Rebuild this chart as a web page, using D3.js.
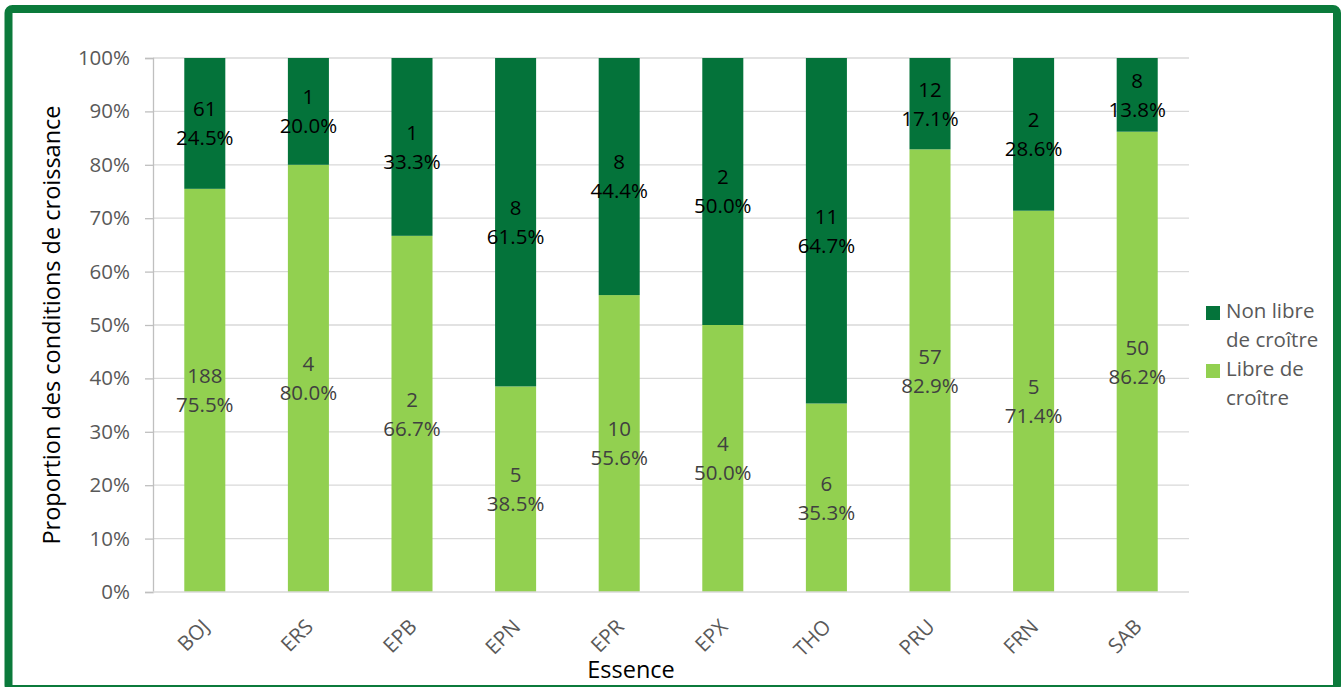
<!DOCTYPE html>
<html><head><meta charset="utf-8">
<script src="https://cdn.jsdelivr.net/npm/d3@7"></script>
<style>
html,body{margin:0;padding:0;background:#fff;}
svg{display:block;font-family:"Open Sans",sans-serif;}
</style></head>
<body>
<svg id="c" width="1341" height="687"></svg>
<script>
const categories = ["BOJ","ERS","EPB","EPN","EPR","EPX","THO","PRU","FRN","SAB"];
const libreCount = [188,4,2,5,10,4,6,57,5,50];
const nonLibreCount = [61,1,1,8,8,2,11,12,2,8];
const librePct = [75.5,80.0,66.7,38.5,55.6,50.0,35.3,82.9,71.4,86.2];
const nonLibrePct = [24.5,20.0,33.3,61.5,44.4,50.0,64.7,17.1,28.6,13.8];
const yTicks = [0,10,20,30,40,50,60,70,80,90,100];
const seriesNames = ["Non libre de croître","Libre de croître"];
const legendLines = [["Non libre","de croître"],["Libre de","croître"]];

const darkGreen = "#04733a", lightGreen = "#92d050";
const svg = d3.select("#c");

// border
svg.append("rect").attr("x",8.5).attr("y",9).attr("width",1328.5).attr("height",680)
  .attr("rx",4).attr("fill","#fff").attr("stroke","#0b7a3b").attr("stroke-width",8);

const x = d3.scaleBand().domain(categories).range([153,1189]).paddingInner(0.604).paddingOuter(0.302);
const y = d3.scaleLinear().domain([0,100]).range([592,58]);

// gridlines
svg.append("g").selectAll("line").data(yTicks.filter(d=>d>0)).join("line")
  .attr("x1",153).attr("x2",1189).attr("y1",d=>y(d)).attr("y2",d=>y(d))
  .attr("stroke","#d9d9d9").attr("stroke-width",1.3);

// y axis
const yAxis = d3.axisLeft(y).tickValues(yTicks).tickFormat(d=>d+"%").tickSize(8).tickPadding(15);
const ya = svg.append("g").attr("transform","translate(153,0)").call(yAxis);
ya.select(".domain").attr("stroke","#bfbfbf").attr("stroke-width",1.3);
ya.selectAll(".tick line").attr("stroke","#bfbfbf").attr("stroke-width",1.3);
ya.selectAll(".tick text").attr("fill","#595959").style("font-size","20.5px").style("font-family","Open Sans");

// bars
const rows = categories.map((c,i)=>({c, libre:librePct[i], non:nonLibrePct[i], lc:libreCount[i], nc:nonLibreCount[i]}));
const g = svg.append("g");
g.selectAll("rect.l").data(rows).join("rect").attr("class","l")
  .attr("x",d=>x(d.c)).attr("width",x.bandwidth())
  .attr("y",d=>y(d.libre)).attr("height",d=>y(0)-y(d.libre)).attr("fill",lightGreen);
g.selectAll("rect.n").data(rows).join("rect").attr("class","n")
  .attr("x",d=>x(d.c)).attr("width",x.bandwidth())
  .attr("y",d=>y(100)).attr("height",d=>y(d.libre)-y(100)).attr("fill",darkGreen);

// x axis line
svg.append("line").attr("x1",153).attr("x2",1189).attr("y1",y(0)).attr("y2",y(0))
  .attr("stroke","#d9d9d9").attr("stroke-width",1.3);

// data labels
function labels(cls, getMid, getCount, getPct, color){
  const t = svg.append("g").selectAll("text."+cls).data(rows).join("text")
    .attr("text-anchor","middle").attr("fill",color)
    .style("font-size","20.5px");
  t.append("tspan").attr("x",d=>x(d.c)+x.bandwidth()/2).attr("y",d=>getMid(d)-14.5).attr("dy","0.36em").text(getCount);
  t.append("tspan").attr("x",d=>x(d.c)+x.bandwidth()/2).attr("y",d=>getMid(d)+14.5).attr("dy","0.36em").text(d=>getPct(d).toFixed(1)+"%");
}
labels("lab-n", d=>(y(100)+y(d.libre))/2, d=>d.nc, d=>d.non, "#000");
labels("lab-l", d=>(y(0)+y(d.libre))/2, d=>d.lc, d=>d.libre, "#404040");

// x tick labels
svg.append("g").selectAll("text").data(categories).join("text")
  .attr("transform",d=>`translate(${x(d)+x.bandwidth()/2+6},${628}) rotate(-45)`)
  .attr("text-anchor","end").attr("fill","#595959").style("font-size","20.5px").text(d=>d);

// axis titles
svg.append("text").attr("transform","translate(60,325) rotate(-90)").attr("text-anchor","middle")
  .attr("fill","#000").style("font-size","23.5px").text("Proportion des conditions de croissance");
svg.append("text").attr("x",631).attr("y",678).attr("text-anchor","middle")
  .attr("fill","#000").style("font-size","23.5px").text("Essence");

// legend
const leg = svg.append("g");
const legColors = [darkGreen, lightGreen];
const legY = [313, 371];
seriesNames.forEach((n,i)=>{
  leg.append("rect").attr("x",1206).attr("y",legY[i]-7).attr("width",14).attr("height",14).attr("fill",legColors[i]);
  const t = leg.append("text").attr("fill","#595959").style("font-size","20.5px");
  legendLines[i].forEach((ln,j)=>{
    t.append("tspan").attr("x",1226).attr("y",legY[i]-2+j*29).attr("dy","0.36em").text(ln);
  });
});
</script>
</body></html>
